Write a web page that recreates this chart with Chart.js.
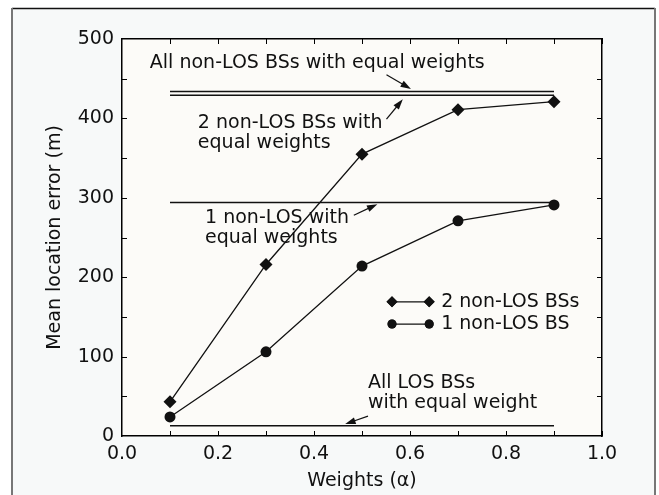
<!DOCTYPE html>
<html>
<head>
<meta charset="utf-8">
<script src="https://cdn.jsdelivr.net/npm/chart.js@4/dist/chart.umd.min.js"></script>
<style>
  html, body { margin: 0; padding: 0; background: #ffffff; }
  #wrap { width: 659px; height: 495px; }
</style>
</head>
<body>
<div id="wrap"><canvas id="errChart" width="659" height="495"></canvas></div>
<script>
'use strict';

// data
const weights = [0.1, 0.3, 0.5, 0.7, 0.9];
const twoNonLos = [43, 216, 355, 411, 421];
const oneNonLos = [24, 106, 214, 271, 291];
const refSpan = [0.1, 0.9];
const allNonLosEq = 434;
const twoNonLosEq = 429;
const oneNonLosEq = 294;
const allLosEq = 13;
const xTicks = [0, 0.2, 0.4, 0.6, 0.8, 1.0];
const yTicks = [0, 100, 200, 300, 400, 500];

const FONT = "'DejaVu Sans', sans-serif";
const FSIZE = 19;

function pts(xs, ys) { return xs.map(function(x, i){ return { x: x, y: ys[i] } }) }
function flat(v) { return refSpan.map(function(x){ return { x: x, y: v } }) }

// callouts, in data units
const notes = [
  { lines: ['All non-LOS BSs with equal weights'], x: 0.058, y: 470, arrow: [0.551, 455, 0.602, 437] },
  { lines: ['2 non-LOS BSs with', 'equal weights'], x: 0.158, y: 394, arrow: [0.551, 399, 0.585, 424] },
  { lines: ['1 non-LOS with', 'equal weights'], x: 0.173, y: 275, arrow: [0.483, 278, 0.532, 292] },
  { lines: ['All LOS BSs', 'with equal weight'], x: 0.5125, y: 67, arrow: [0.5125, 25, 0.465, 15] }
];

const framePlugin = {
  id: 'frame',
  beforeDraw: function(chart) {
    const ctx = chart.ctx, a = chart.chartArea;
    ctx.save();
    ctx.fillStyle = '#ffffff';
    ctx.fillRect(0, 0, chart.width, chart.height);
    ctx.fillStyle = '#f7f9f9';
    ctx.fillRect(12, 8, 643, 495);
    ctx.strokeStyle = '#111';
    ctx.lineWidth = 1.5;
    ctx.beginPath(); ctx.moveTo(12, 8.5); ctx.lineTo(655, 8.5); ctx.stroke();
    ctx.strokeStyle = '#777';
    ctx.lineWidth = 2;
    ctx.beginPath(); ctx.moveTo(12, 8); ctx.lineTo(12, 495); ctx.moveTo(655, 8); ctx.lineTo(655, 495); ctx.stroke();
    ctx.fillStyle = '#fcfbf8';
    ctx.fillRect(a.left, a.top, a.right - a.left, a.bottom - a.top);
    ctx.restore();
  },
  afterDraw: function(chart) {
    const ctx = chart.ctx, a = chart.chartArea;
    const sx = chart.scales.x, sy = chart.scales.y;
    ctx.save();
    // inward minor ticks on all four sides
    ctx.strokeStyle = '#000';
    ctx.lineWidth = 1;
    ctx.beginPath();
    for (let v = 0.1; v < 1; v += 0.1) {
      const px = Math.round(sx.getPixelForValue(v)) + 0.5;
      ctx.moveTo(px, a.bottom); ctx.lineTo(px, a.bottom - 5);
      ctx.moveTo(px, a.top); ctx.lineTo(px, a.top + 5);
    }
    for (let v = 50; v < 500; v += 50) {
      const py = Math.round(sy.getPixelForValue(v)) + 0.5;
      ctx.moveTo(a.left, py); ctx.lineTo(a.left + 5, py);
      ctx.moveTo(a.right, py); ctx.lineTo(a.right - 5, py);
    }
    ctx.stroke();

    // callout texts and arrows
    ctx.fillStyle = '#111';
    ctx.font = FSIZE + 'px ' + FONT;
    ctx.textBaseline = 'middle';
    ctx.textAlign = 'left';
    notes.forEach(function(n) {
      const x = sx.getPixelForValue(n.x);
      const y = sy.getPixelForValue(n.y);
      n.lines.forEach(function(t, i){ ctx.fillText(t, x, y + i * 20) });
      const x1 = sx.getPixelForValue(n.arrow[0]), y1 = sy.getPixelForValue(n.arrow[1]);
      const x2 = sx.getPixelForValue(n.arrow[2]), y2 = sy.getPixelForValue(n.arrow[3]);
      const ang = Math.atan2(y2 - y1, x2 - x1);
      ctx.strokeStyle = '#111';
      ctx.lineWidth = 1.2;
      ctx.beginPath(); ctx.moveTo(x1, y1); ctx.lineTo(x2 - 7 * Math.cos(ang), y2 - 7 * Math.sin(ang)); ctx.stroke();
      ctx.beginPath();
      ctx.moveTo(x2, y2);
      ctx.lineTo(x2 - 11 * Math.cos(ang - 0.32), y2 - 11 * Math.sin(ang - 0.32));
      ctx.lineTo(x2 - 11 * Math.cos(ang + 0.32), y2 - 11 * Math.sin(ang + 0.32));
      ctx.closePath(); ctx.fill();
    });

    // legend: line with a marker at each end
    const legendRows = [
      { ds: chart.data.datasets[0], y: 169 },
      { ds: chart.data.datasets[1], y: 141 }
    ];
    legendRows.forEach(function(r) {
      const xa = sx.getPixelForValue(0.5625), xb = sx.getPixelForValue(0.64);
      const py = sy.getPixelForValue(r.y);
      ctx.strokeStyle = '#111';
      ctx.lineWidth = 1.3;
      ctx.beginPath(); ctx.moveTo(xa, py); ctx.lineTo(xb, py); ctx.stroke();
      [xa, xb].forEach(function(px){
        Chart.helpers.drawPoint(ctx, { pointStyle: r.ds.pointStyle, radius: r.ds.pointRadius - 1, borderWidth: 0 }, px, py);
        ctx.fill();
      });
      ctx.fillStyle = '#111';
      ctx.fillText(r.ds.label, xb + 12, py);
    });
    ctx.restore();
  }
};

const seriesLine = { borderColor: '#111', backgroundColor: '#111', borderWidth: 1.3, pointBorderWidth: 0, tension: 0 };
const refLine = { borderColor: '#111', borderWidth: 1.5, pointRadius: 0, tension: 0 };

new Chart(document.getElementById('errChart'), {
  type: 'line',
  data: {
    datasets: [
      Object.assign({ label: '2 non-LOS BSs', data: pts(weights, twoNonLos), pointStyle: 'rectRot', pointRadius: 6.5 }, seriesLine),
      Object.assign({ label: '1 non-LOS BS', data: pts(weights, oneNonLos), pointStyle: 'circle', pointRadius: 5.5 }, seriesLine),
      Object.assign({ label: 'All non-LOS BSs with equal weights', data: flat(allNonLosEq) }, refLine),
      Object.assign({ label: '2 non-LOS BSs with equal weights', data: flat(twoNonLosEq) }, refLine),
      Object.assign({ label: '1 non-LOS with equal weights', data: flat(oneNonLosEq) }, refLine),
      Object.assign({ label: 'All LOS BSs with equal weight', data: flat(allLosEq) }, refLine)
    ]
  },
  options: {
    responsive: false,
    animation: false,
    layout: { padding: { left: 0, top: 39, right: 0, bottom: 0 } },
    plugins: { legend: { display: false }, tooltip: { enabled: false } },
    scales: {
      x: {
        type: 'linear', min: 0, max: 1,
        afterBuildTicks: function(s){ s.ticks = xTicks.map(function(v){ return { value: v } }) },
        afterFit: function(s){ s.height = 59 },
        grid: { display: false, drawTicks: false },
        border: { display: true, color: '#000', width: 1.5 },
        ticks: { color: '#111', font: { size: FSIZE, family: FONT }, padding: 7,
          callback: function(v){ return v.toFixed(1) } },
        title: { display: true, text: 'Weights (α)', color: '#111', font: { size: FSIZE, family: FONT }, padding: { top: 0, bottom: 3 } }
      },
      x2: {
        type: 'linear', min: 0, max: 1, position: 'top',
        afterFit: function(s){ s.height = 0 },
        grid: { display: false, drawTicks: false },
        border: { display: true, color: '#000', width: 1.5 },
        ticks: { display: false }
      },
      y: {
        type: 'linear', min: 0, max: 500,
        afterBuildTicks: function(s){ s.ticks = yTicks.map(function(v){ return { value: v } }) },
        afterFit: function(s){ s.width = 122 },
        grid: { display: false, drawTicks: false },
        border: { display: true, color: '#000', width: 1.5 },
        ticks: { color: '#111', font: { size: FSIZE, family: FONT }, padding: 8 },
        title: { display: true, text: 'Mean location error (m)', color: '#111', font: { size: FSIZE, family: FONT }, padding: { top: 44, bottom: 0 } }
      },
      y2: {
        type: 'linear', min: 0, max: 500, position: 'right',
        afterFit: function(s){ s.width = 57 },
        grid: { display: false, drawTicks: false },
        border: { display: true, color: '#000', width: 1.5 },
        ticks: { display: false }
      }
    }
  },
  plugins: [framePlugin]
});
</script>
</body>
</html>
